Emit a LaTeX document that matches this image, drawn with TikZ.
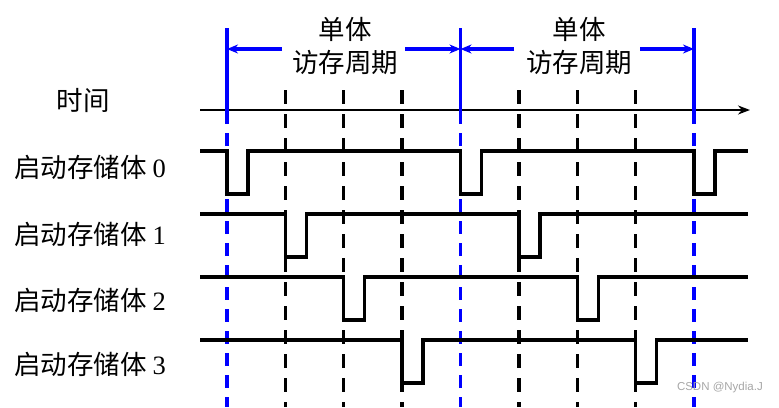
\documentclass[tikz,border=0pt]{standalone}
\usepackage{fontspec}
\setmainfont{Liberation Serif}
\newfontfamily\cjk{Noto Sans CJK SC}
\newfontfamily\wmfont{Liberation Sans}
\usetikzlibrary{arrows.meta}
\tikzset{
  sig/.style={line width=3.3pt,line join=miter,black},
  bluesolid/.style={line width=3.4pt,blue},
  bluedash/.style={line width=3.4pt,blue,dash pattern=on 13pt off 9pt},
  slotdash/.style={line width=3.3pt,black,dash pattern=on 14pt off 10pt},
  axis/.style={line width=2.8pt,-{Stealth[length=12pt,width=9pt]}},
  dimarr/.style={line width=3.2pt,blue,-{Stealth[length=11pt,width=9pt]}},
  lbl/.style={font=\cjk\fontsize{26.5}{33}\selectfont,inner sep=0pt,align=center},
  wm/.style={font=\wmfont\fontsize{11.5}{12}\selectfont,text=gray!70,inner sep=0pt}
}

\begin{document}
\begin{tikzpicture}[x=1pt,y=-1pt]
  \useasboundingbox (0,0) rectangle (779,407);
  % Time axis
  \coordinate (ax0) at (200,110);
  \coordinate (ax1) at (750,110);
  \draw[axis] (ax0) -- (ax1);
  \node[lbl] (time) at (83,100) {时间};

  % Slot boundaries (black dashed)
  \foreach \k/\x in {1/285.4,2/343.8,3/402.1,4/518.9,5/577.3,6/635.6} {
    \coordinate (s\k top) at (\x,90);
    \coordinate (s\k bot) at (\x,407);
    \draw[slotdash] (s\k top) -- (s\k bot);
  }

  % Cycle boundaries (blue)
  \foreach \n/\x in {0/227,1/460.5,2/694} {
    \coordinate (b\n top) at (\x,28);
    \coordinate (b\n mid) at (\x,124);
    \coordinate (b\n dash) at (\x,133);
    \coordinate (b\n bot) at (\x,407);
    \draw[bluesolid] (b\n top) -- (b\n mid);
    \draw[bluedash] (b\n dash) -- (b\n bot);
  }

  % Cycle labels and arrows
  \node[lbl] (per0) at (345,46) {单体\\访存周期};
  \node[lbl] (per1) at (579,46) {单体\\访存周期};
  \coordinate (a0l) at (282,49);
  \coordinate (a0r) at (405,49);
  \coordinate (a1l) at (514,49);
  \coordinate (a1r) at (640,49);
  \draw[dimarr] (a0l) -- (b0top |- a0l);
  \draw[dimarr] (a0r) -- (b1top |- a0r);
  \draw[dimarr] (a1l) -- (b1top |- a1l);
  \draw[dimarr] (a1r) -- (b2top |- a1r);

  % Bank start signals
  \foreach \i/\yh/\ly/\dips in {0/151/167/{227,460.5,694},1/214/234/{285.4,518.9},2/277/300/{343.8,577.3},3/340/364/{402.1,635.6}} {
    \node[lbl,anchor=west] (bank\i) at (14,\ly) {启动存储体 {\rmfamily\i}};
    \draw[sig] (200,\yh) \foreach \d in \dips {-- (\d,\yh) -- (\d,\yh+43) -- (\d+21,\yh+43) -- (\d+21,\yh)} -- (748,\yh);
  }

  \node[wm,anchor=east] (mark) at (763,388) {CSDN @Nydia.J};
\end{tikzpicture}
\end{document}
